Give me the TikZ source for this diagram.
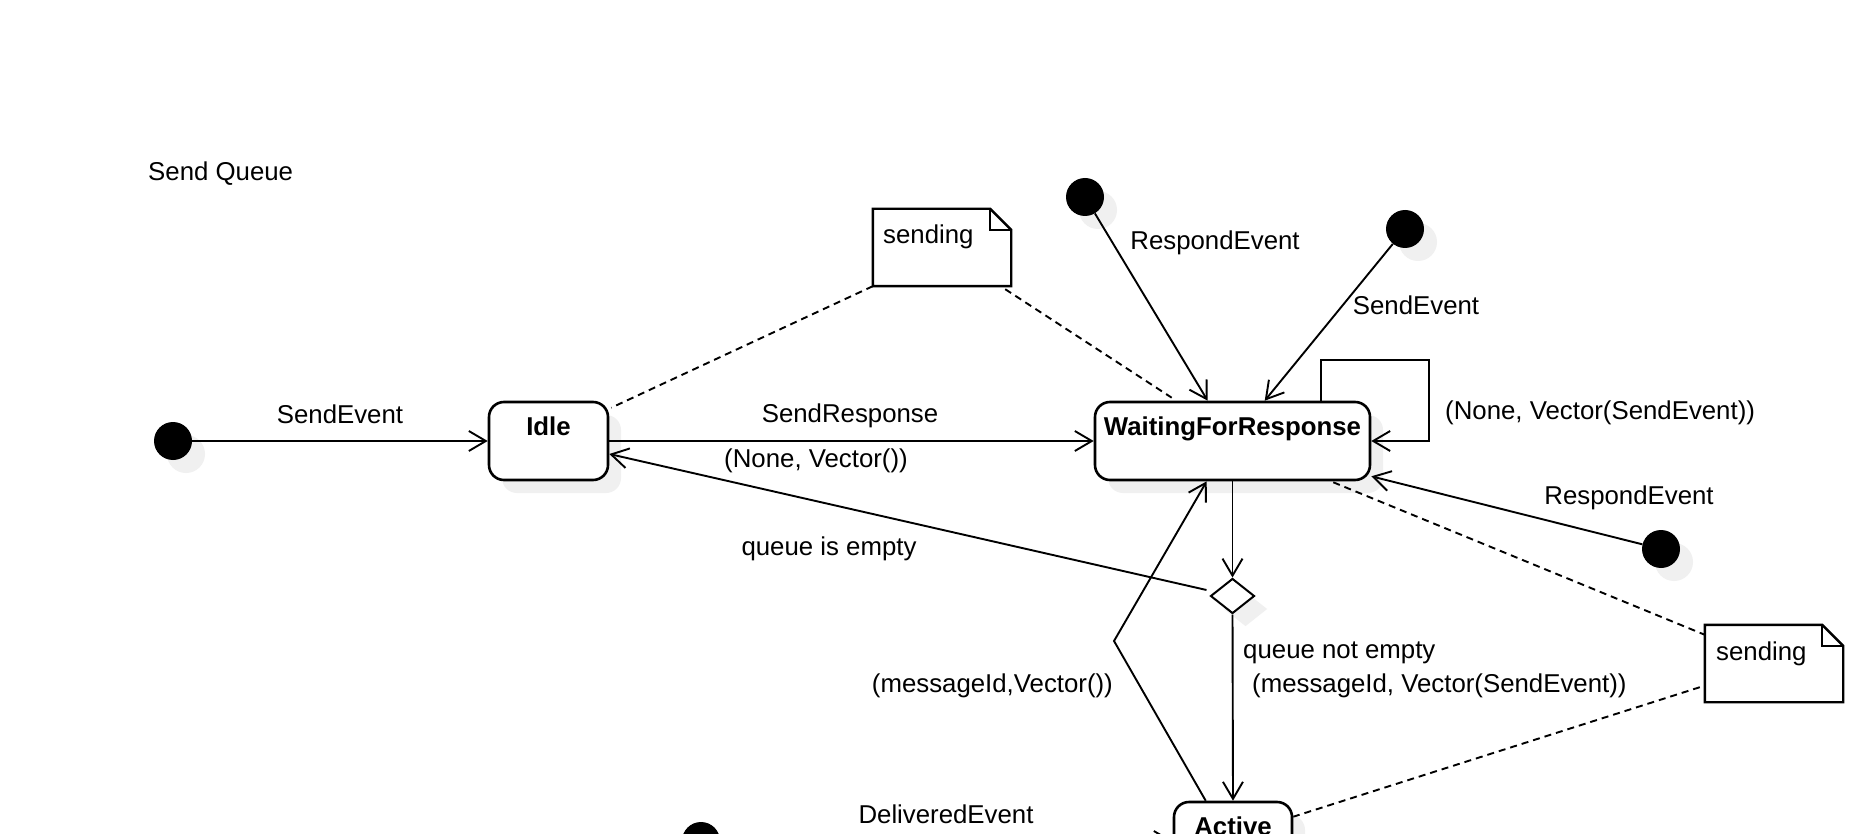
\documentclass[tikz,border=0pt]{standalone}
\usepackage{fontspec}
\setmainfont{Liberation Sans}
\usetikzlibrary{arrows.meta,shapes.geometric,shadows,calc}
\begin{document}
\begin{tikzpicture}[x=1pt,y=-1pt,
  font=\fontsize{25.8}{30}\selectfont,
  sh/.style={drop shadow={shadow xshift=13pt,shadow yshift=-13pt,fill=black!6,opacity=1}},
  conn/.style={line width=1.9pt,-{Straight Barb[length=17pt,width=20pt]}},
  dashline/.style={line width=1.9pt,dash pattern=on 7pt off 5pt},
  stbox/.style={draw,line width=2.6pt,rounded corners=15pt,fill=white,inner sep=0pt,minimum height=78pt,sh},
  initdot/.style={circle,fill=black,inner sep=0pt,minimum size=38pt,sh},
  choice/.style={diamond,draw,line width=2pt,fill=white,inner sep=0pt,minimum width=44pt,minimum height=35pt,sh},
  notebox/.style={inner sep=0pt,minimum width=138pt,minimum height=77pt},
  notepath/.style={line width=2.4pt,fill=white,line join=miter},
  lbl/.style={inner sep=0pt,anchor=base},
  stlabel/.style={inner sep=0pt,anchor=base,font=\bfseries\fontsize{25.8}{30}\selectfont}
]
\useasboundingbox (0,0) rectangle (1876,834);
\fill[white] (0,0) rectangle (1876,834);
\clip (0,0) rectangle (1876,834);

% title
\node[lbl,anchor=base west] (title) at (148,181) {Send Queue};

% states
\node[stbox,minimum width=119pt] (idle) at (548.5,441) {};
\node[stlabel] (idleL) at (548.5,435) {Idle};
\node[stbox,minimum width=275pt] (wfr) at (1232.5,441) {};
\node[stlabel] (wfrL) at (1232.5,435) {WaitingForResponse};
\node[stbox,minimum width=118pt] (active) at (1233,841) {};
\node[stlabel] (activeL) at (1233,835) {Active};
\node[choice] (dia) at (1232.5,596) {};

% initial dots
\node[initdot] (d0) at (173,441) {};
\node[initdot] (d1) at (1085,197) {};
\node[initdot] (d2) at (1405,229) {};
\node[initdot] (d3) at (1661,549) {};
\node[initdot] (d4) at (701,841) {};

% notes
\node[notebox] (n1) at (942,247.5) {};
\node[notebox] (n2) at (1774,663.5) {};
\foreach \n in {n1,n2}{
  \draw[notepath] (\n.south west) -- (\n.north west) -- ($(\n.north east)+(-21,0)$)
     -- ($(\n.north east)+(0,21)$) -- (\n.south east) -- cycle;
  \draw[notepath,fill=none] ($(\n.north east)+(-21,0)$) -- ($(\n.north east)+(-21,21)$) -- ($(\n.north east)+(0,21)$);
}
\node[lbl,anchor=base west] (n1L) at (883,244) {sending};
\node[lbl,anchor=base west] (n2L) at (1716,660) {sending};

% dashed note links
\draw[dashline] (n1.south west) -- ($(idle.north east)+(2,7)$);
\draw[dashline] ($(n1.south east)+(-6,3)$) -- ($(wfr.north west)+(78,-3)$);
\draw[dashline] ($(wfr.south east)+(-38,1)$) -- ($(n2.north west)+(0,10)$);
\draw[dashline] ($(n2.south west)+(-5,-15)$) -- ($(active.north east)+(0,16)$);

% transitions
\draw[conn] (d0) -- (idle.west);
\node[lbl] (l1) at (340,423) {SendEvent};

\draw[conn] (idle.east) -- (wfr.west);
\node[lbl] (l2) at (850,422) {SendResponse};
\node[lbl] (l3) at (816,467) {(None, Vector())};

\draw[conn] (d1) -- ($(wfr.north west)+(114,0)$);
\node[lbl] (l4) at (1215,250) {RespondEvent};

\draw[conn] (d2) -- ($(wfr.north west)+(171,0)$);
\node[lbl] (l5) at (1416,314) {SendEvent};

\draw[conn] ($(wfr.north west)+(227,0)$) -- ++(0,-41) -- ++(108,0) |- (wfr.east);
\node[lbl,anchor=base west] (l6) at (1445,419) {(None, Vector(SendEvent))};

\draw[conn] (d3) -- ($(wfr.south east)+(0,-5)$);
\node[lbl] (l7) at (1629,504) {RespondEvent};

\draw[conn] (wfr.south) -- (dia.north);

\draw[conn] ($(dia.west)+(-3,-6)$) -- ($(idle.east)+(0,13)$);
\node[lbl] (l8) at (829,555) {queue is empty};

\draw[conn] (dia.south) -- (active.north);
\node[lbl,anchor=base west] (l9) at (1243,658) {queue not empty};
\node[lbl,anchor=base west] (l10) at (1252,692) {(messageId, Vector(SendEvent))};

\coordinate (bend) at (1114,641);
\draw[conn] ($(active.north west)+(33,0)$) -- (bend) -- ($(wfr.south west)+(113,0)$);
\node[lbl,anchor=base east] (l11) at (1113,692) {(messageId,Vector())};

\draw[conn] (d4) -- (active.west);
\node[lbl] (l12) at (946,823) {DeliveredEvent};
\end{tikzpicture}
\end{document}
